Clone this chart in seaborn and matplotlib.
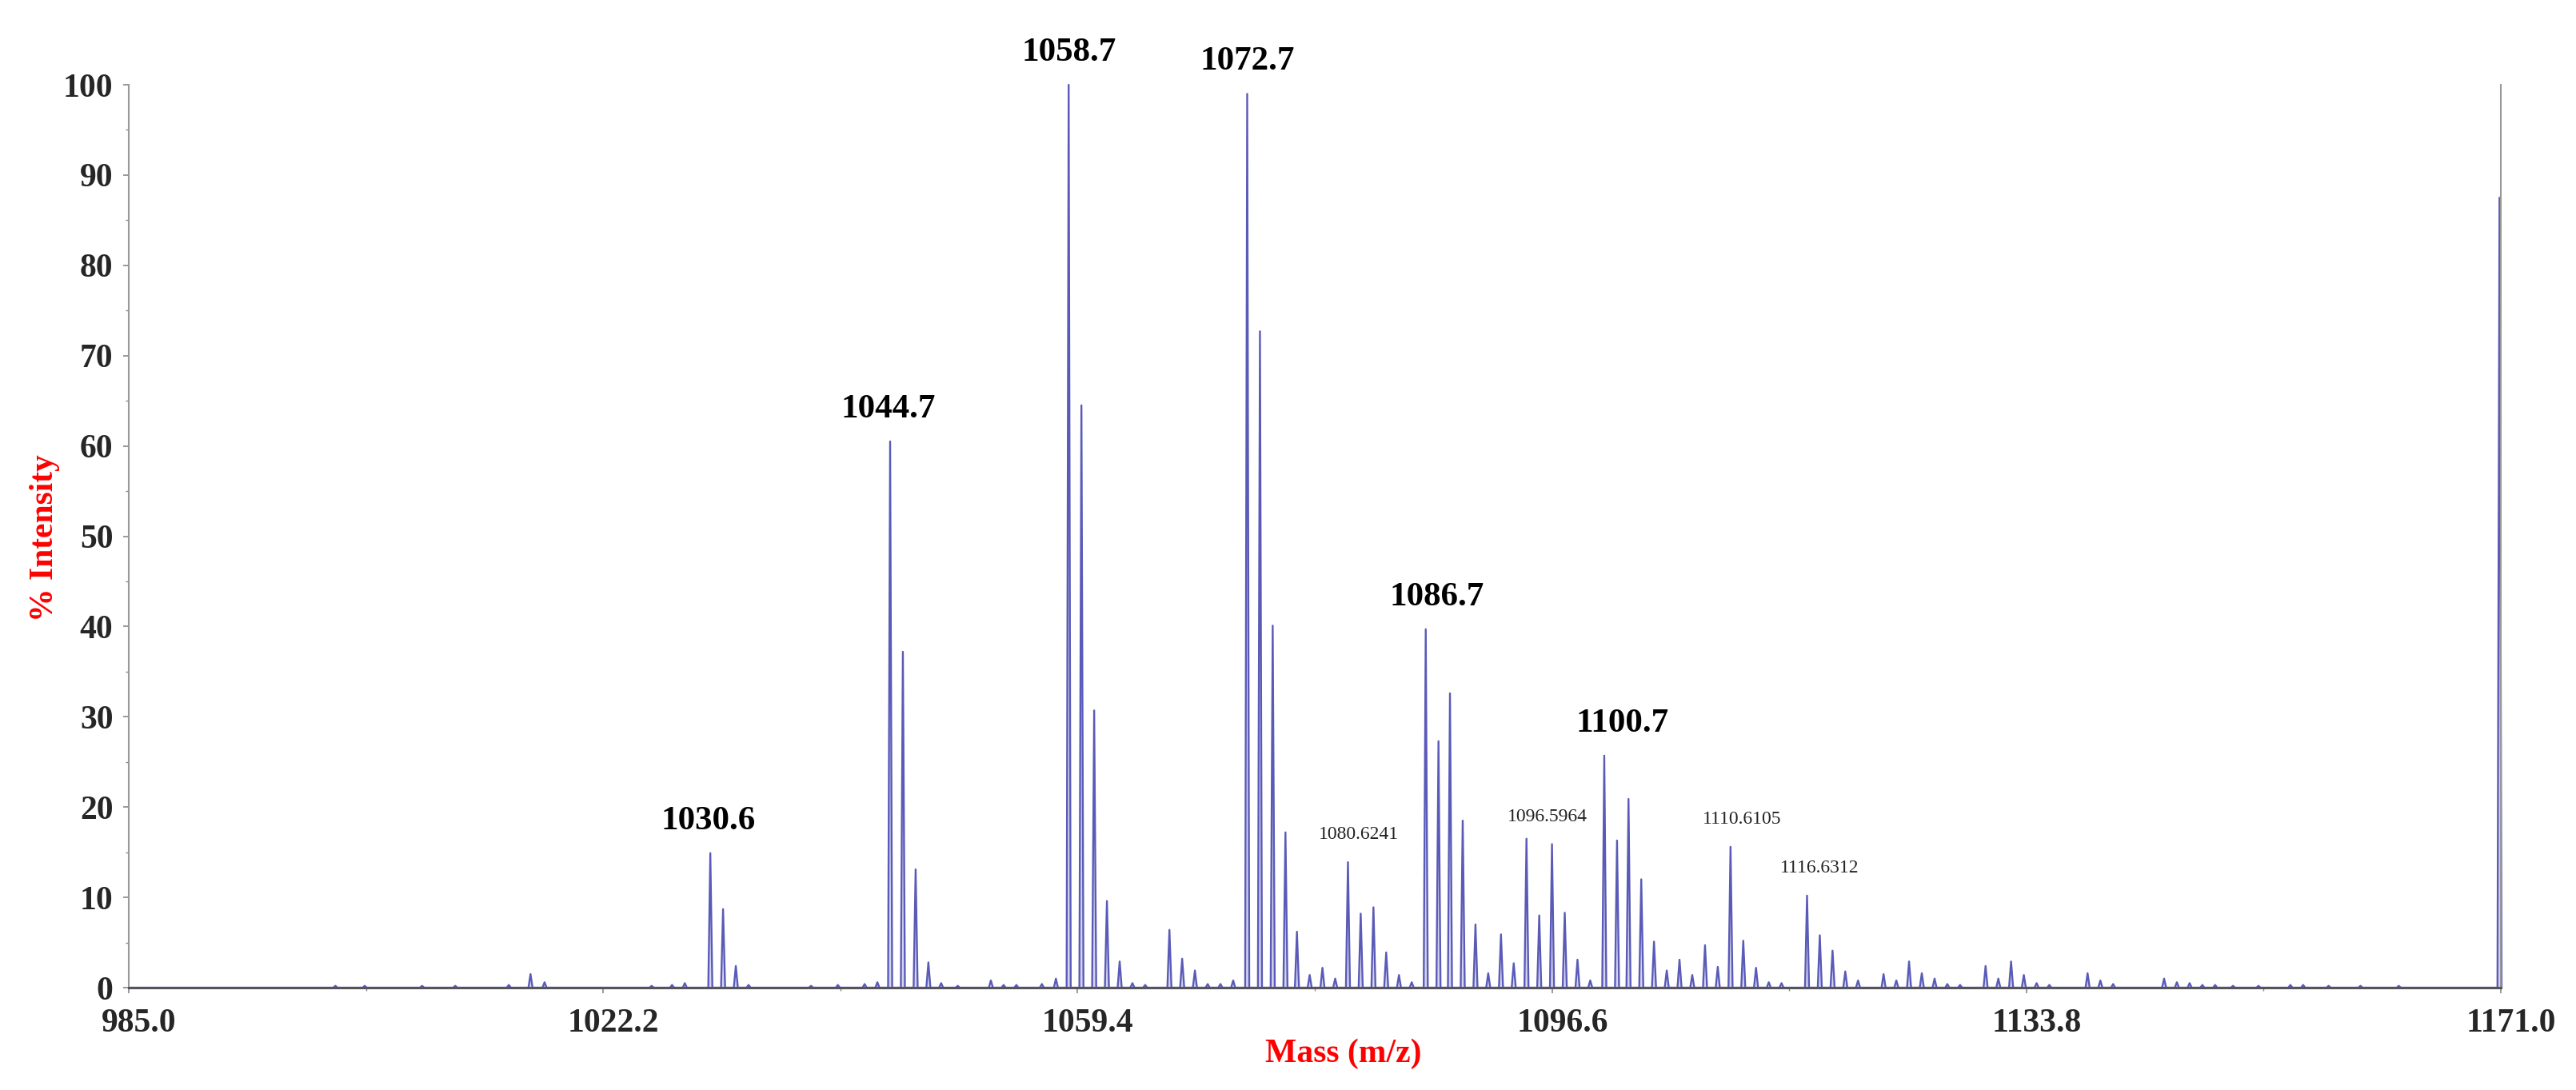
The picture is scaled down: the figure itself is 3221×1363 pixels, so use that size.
import numpy as np
import pandas as pd
import matplotlib
matplotlib.use("Agg")
import matplotlib.pyplot as plt
import matplotlib.transforms as mtransforms
from matplotlib.ticker import FixedLocator, MultipleLocator
import seaborn as sns

# peak centroids (m/z) and relative intensity (%)
peak_mz = [1001.2, 1003.5, 1008.0, 1010.6, 1014.8, 1016.5, 1017.6, 1026.0, 1027.6, 1028.6,
           1030.6, 1031.6, 1032.6, 1033.6, 1038.5, 1040.6, 1042.7, 1043.7,
           1044.7, 1045.7, 1046.7, 1047.7, 1048.7, 1050.0, 1052.6, 1053.6, 1054.6, 1056.6, 1057.7,
           1058.7, 1059.7, 1060.7, 1061.7, 1062.7, 1063.7, 1064.7, 1066.6, 1067.6, 1068.6,
           1069.6, 1070.6, 1071.6,
           1072.7, 1073.7, 1074.7, 1075.7, 1076.6, 1077.6, 1078.6, 1079.6,
           1080.6, 1081.6, 1082.6, 1083.6, 1084.6, 1085.6,
           1086.7, 1087.7, 1088.6, 1089.6, 1090.6, 1091.6, 1092.6, 1093.6,
           1094.6, 1095.6, 1096.6, 1097.6, 1098.6, 1099.6,
           1100.7, 1101.7, 1102.6, 1103.6, 1104.6, 1105.6, 1106.6, 1107.6, 1108.6, 1109.6,
           1110.6, 1111.6, 1112.6, 1113.6, 1114.6,
           1116.6, 1117.6, 1118.6, 1119.6, 1120.6, 1122.6, 1123.6, 1124.6, 1125.6, 1126.6,
           1127.6, 1128.6, 1130.6, 1131.6, 1132.6, 1133.6, 1134.6, 1135.6,
           1138.6, 1139.6, 1140.6, 1144.6, 1145.6, 1146.6, 1147.6, 1148.6,
           1150.0, 1152.0, 1154.5, 1155.5, 1157.5, 1160.0, 1163.0, 1170.9]
peak_int = [0.2, 0.2, 0.2, 0.2, 0.3, 1.5, 0.6, 0.2, 0.3, 0.5,
            14.9, 8.7, 2.4, 0.3, 0.2, 0.3, 0.4, 0.6,
            60.5, 37.2, 13.1, 2.8, 0.5, 0.2, 0.8, 0.3, 0.3, 0.4, 1.0,
            100.0, 64.5, 30.7, 9.6, 2.9, 0.5, 0.3, 6.4, 3.2, 1.9,
            0.4, 0.4, 0.8,
            99.0, 72.7, 40.1, 17.2, 6.2, 1.4, 2.2, 1.0,
            13.9, 8.2, 8.9, 3.9, 1.4, 0.6,
            39.7, 27.3, 32.6, 18.5, 7.0, 1.6, 5.9, 2.7,
            16.5, 8.0, 15.9, 8.3, 3.1, 0.8,
            25.7, 16.3, 20.9, 12.0, 5.1, 1.9, 3.1, 1.4, 4.7, 2.3,
            15.6, 5.2, 2.2, 0.6, 0.5,
            10.2, 5.8, 4.1, 1.8, 0.8, 1.5, 0.8, 2.9, 1.6, 1.0,
            0.4, 0.3, 2.4, 1.0, 2.9, 1.4, 0.5, 0.3,
            1.6, 0.8, 0.4, 1.0, 0.6, 0.5, 0.3, 0.3,
            0.2, 0.2, 0.3, 0.3, 0.2, 0.2, 0.2, 87.5]

# annotated peaks
major_labels = ["1030.6", "1044.7", "1058.7", "1072.7", "1086.7", "1100.7"]
major_mz = [1030.6, 1044.7, 1058.7, 1072.7, 1086.7, 1100.7]
minor_labels = ["1080.6241", "1096.5964", "1110.6105", "1116.6312"]
minor_mz = [1080.6, 1096.6, 1110.6, 1116.6]

x_ticks = [985.0, 1022.2, 1059.4, 1096.6, 1133.8, 1171.0]
y_ticks = [0, 10, 20, 30, 40, 50, 60, 70, 80, 90, 100]

# build a centroid -> narrow profile table for the line
half_w = 0.16
lookup = dict(zip(peak_mz, peak_int))
prof_x = [x_ticks[0]]
prof_y = [0.0]
for m, h in sorted(lookup.items()):
    prof_x += [m - half_w, m, m + half_w]
    prof_y += [0.0, h, 0.0]
prof_x.append(x_ticks[-1])
prof_y.append(0.0)
spec = pd.DataFrame({"mz": prof_x, "intensity": prof_y})

sns.set_style("ticks")
plt.rcParams["font.family"] = ["Liberation Serif", "DejaVu Serif"]

fig = plt.figure(figsize=(32.21, 13.63), dpi=100)
ax = fig.add_axes([0.05, 0.0939, 0.9208, 0.8283])

sns.lineplot(data=spec, x="mz", y="intensity", sort=False, estimator=None,
             color="#5a5ab8", linewidth=1.7, ax=ax)
ax.lines[-1].set_clip_on(False)
ax.fill_between(spec["mz"], spec["intensity"], color="#b8b8e4", alpha=0.6,
                linewidth=0)

ax.set_xlim(x_ticks[0], x_ticks[-1])
ax.set_ylim(0, 100)

ax.xaxis.set_major_locator(FixedLocator(x_ticks))
ax.xaxis.set_minor_locator(FixedLocator(
    [(a + b) / 2 for a, b in zip(x_ticks[:-1], x_ticks[1:])]))
ax.set_xticklabels([f"{t:.1f}" for t in x_ticks])
ax.yaxis.set_major_locator(FixedLocator(y_ticks))
ax.yaxis.set_minor_locator(MultipleLocator(5))
ax.set_yticklabels([str(t) for t in y_ticks])

ax.tick_params(axis="both", which="major", length=5, width=1.2, color="#888888",
               labelsize=30, pad=9)
ax.tick_params(axis="both", which="minor", length=3, width=1.0, color="#888888")
ax.tick_params(axis="x", which="major", pad=14)
for lab in ax.get_xticklabels() + ax.get_yticklabels():
    lab.set_fontweight("bold")
shift = mtransforms.ScaledTranslation(0.13, 0, fig.dpi_scale_trans)
for lab in ax.get_xticklabels():
    lab.set_transform(lab.get_transform() + shift)

ax.spines["top"].set_visible(False)
ax.spines["left"].set_color("#999999")
ax.spines["left"].set_linewidth(1.5)
ax.spines["right"].set_color("#999999")
ax.spines["right"].set_linewidth(1.5)
ax.spines["bottom"].set_color("#555555")
ax.spines["bottom"].set_linewidth(2.2)

ax.set_xlabel("Mass (m/z)", color="red", fontsize=30, fontweight="bold")
ax.xaxis.label.set_va("center")
ax.xaxis.set_label_coords(0.512, -0.0735)
ax.set_ylabel("% Intensity", color="red", fontsize=30, fontweight="bold")
ax.yaxis.label.set_va("center")
ax.yaxis.set_label_coords(-0.0354, 0.498)

# label offsets in points (layout only)
major_dx = [-2, -2, 0, 0, 10, 16]
minor_dx = [10, -4, 10, 11]
for txt, m, dx in zip(major_labels, major_mz, major_dx):
    ax.annotate(txt, xy=(m, lookup[m]), xytext=(dx, 15), textcoords="offset points",
                ha="center", va="bottom", fontsize=31, fontweight="bold",
                color="black", annotation_clip=False)
for txt, m, dx in zip(minor_labels, minor_mz, minor_dx):
    ax.annotate(txt, xy=(m, lookup[m]), xytext=(dx, 17), textcoords="offset points",
                ha="center", va="bottom", fontsize=17, color="#222222",
                annotation_clip=False)

fig.savefig("out.png", dpi=100)
plt.close(fig)
